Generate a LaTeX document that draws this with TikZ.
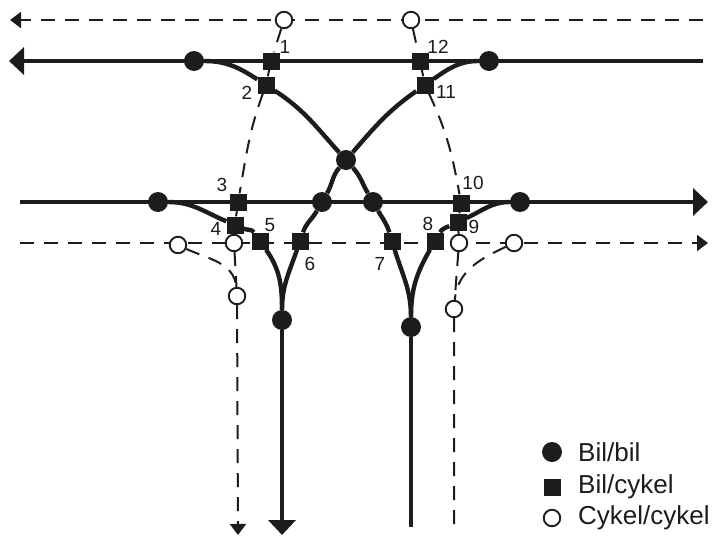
\documentclass[tikz,border=0pt]{standalone}
\usepackage{fontspec}
\setmainfont{Liberation Sans}
\usetikzlibrary{arrows.meta}
\pgfdeclarelayer{fg}
\pgfsetlayers{main,fg}
\definecolor{ink}{HTML}{1C1C1C}
\begin{document}
\begin{tikzpicture}[x=1pt,y=1pt,
  road/.style={draw=ink, line width=4.4pt},
  bike/.style={draw=ink, line width=2pt, dash pattern=on 14pt off 10pt},
  bigtip/.style={-{Triangle[length=15pt,width=27pt]}},
  smalltip/.style={-{Triangle[length=11pt,width=16pt]}},
  bb/.style={circle, fill=ink, inner sep=0pt, minimum size=20pt},
  bc/.style={rectangle, fill=ink, inner sep=0pt, minimum size=17pt},
  cc/.style={circle, draw=ink, fill=white, line width=1.9pt, inner sep=0pt, minimum size=16.5pt},
  lab/.style={font=\fontsize{19}{19}\selectfont, text=ink, inner sep=0pt},
  leg/.style={font=\fontsize{26}{26}\selectfont, text=ink, inner sep=0pt, anchor=west}]
\useasboundingbox (0,0) rectangle (713,-536);

% ---------- markers (foreground layer) ----------
\begin{pgfonlayer}{fg}
  % car/car
  \node[bb] (dA1) at (194,-61) {};
  \node[bb] (dA2) at (489,-61) {};
  \node[bb] (X)   at (346,-160) {};
  \node[bb] (dC1) at (158,-202) {};
  \node[bb] (dM1) at (322,-202) {};
  \node[bb] (dM2) at (373,-202) {};
  \node[bb] (dC2) at (520,-202) {};
  \node[bb] (dB1) at (282,-320) {};
  \node[bb] (dB2) at (411,-327) {};
  % car/bike
  \node[bc] (s1)  at (271,-61) {};
  \node[bc] (s12) at (420,-61) {};
  \node[bc] (s2)  at (266,-85) {};
  \node[bc] (s11) at (425,-85) {};
  \node[bc] (s3)  at (238,-202) {};
  \node[bc] (s10) at (461,-203) {};
  \node[bc] (s4)  at (235,-225) {};
  \node[bc] (s9)  at (458,-222) {};
  \node[bc] (s5)  at (260,-241) {};
  \node[bc] (s6)  at (300,-241) {};
  \node[bc] (s7)  at (392,-241) {};
  \node[bc] (s8)  at (435,-241) {};
  % bike/bike
  \node[cc] (cT1) at (284,-20) {};
  \node[cc] (cT2) at (411,-20) {};
  \node[cc] (cM1) at (178,-245) {};
  \node[cc] (cL1) at (234,-243) {};
  \node[cc] (cR1) at (459,-243) {};
  \node[cc] (cM2) at (514,-243) {};
  \node[cc] (cL2) at (237,-296) {};
  \node[cc] (cR2) at (454,-309) {};
  % labels
  \node[lab] (l1)  at (285,-47) {1};
  \node[lab] (l12) at (438,-47) {12};
  \node[lab] (l2)  at (247,-93) {2};
  \node[lab] (l11) at (446,-92) {11};
  \node[lab] (l3)  at (222,-185) {3};
  \node[lab] (l10) at (473,-183) {10};
  \node[lab] (l4)  at (216,-229) {4};
  \node[lab] (l5)  at (270,-225) {5};
  \node[lab] (l6)  at (310,-264) {6};
  \node[lab] (l7)  at (380,-264) {7};
  \node[lab] (l8)  at (428,-224) {8};
  \node[lab] (l9)  at (474,-227) {9};
  % legend
  \node[bb] (g1) at (552,-452) {};
  \node[bc] (g2) at (552,-487) {};
  \node[cc] (g3) at (552,-518) {};
  \node[leg] (t1) at (578,-452) {Bil/bil};
  \node[leg] (t2) at (578,-487) {Bil/cykel};
  \node[leg] (t3) at (578,-518) {Cykel/cykel};
\end{pgfonlayer}

% ---------- free ends ----------
\coordinate (topE)  at (703,-61);
\coordinate (topW)  at (9,-61);
\coordinate (midW)  at (20,-202);
\coordinate (midE)  at (708,-202);
\coordinate (btE)   at (703,-20);
\coordinate (btW)   at (10,-20);
\coordinate (bmW)   at (20,-243);
\coordinate (bmE)   at (708,-243);
\coordinate (botL)  at (282,-535);
\coordinate (botR)  at (411,-527);
\coordinate (bbotL) at (238,-535);
\coordinate (bbotR) at (454,-525);

% ---------- bicycle lanes ----------
\draw[bike,smalltip] (btE) -- (btW);
\draw[bike,smalltip] (bmW) -- (bmE);
\draw[bike,smalltip] (cT1) -- (s1) -- (s2) to[out=-110,in=80] (s3) -- (s4) -- (cL1) -- (cL2) -- (bbotL);
\draw[bike] (cT2) -- (s12) -- (s11) to[out=-65,in=100] (s10) -- (s9) -- (cR1) -- (cR2) -- (bbotR);
\draw[bike] (cM1) to[out=-25,in=95] (cL2);
\draw[bike] (cM2) to[out=205,in=85] (cR2);

% ---------- roads ----------
\draw[road,bigtip] (topE) -- (topW);
\draw[road,bigtip] (midW) -- (midE);
\draw[road] (dA1) to[out=0,in=147] (s2) to[out=-33,in=132] (X) to[out=-48,in=120] (dM2)
            to[out=-60,in=107] (s7) to[out=-73,in=90] (dB2);
\draw[road] (dA2) to[out=180,in=35] (s11) to[out=215,in=49] (X) to[out=229,in=60] (dM1)
            to[out=240,in=71] (s6) to[out=251,in=90] (dB1);
\draw[road] (dC1) to[out=0,in=157] (s4) to[out=-23,in=125] (s5) to[out=-55,in=90] (dB1);
\draw[road] (dC2) to[out=180,in=25] (s9) to[out=205,in=60] (s8) to[out=240,in=90] (dB2);
\draw[road,bigtip] (dB1) -- (botL);
\draw[road] (dB2) -- (botR);
\end{tikzpicture}
\end{document}
